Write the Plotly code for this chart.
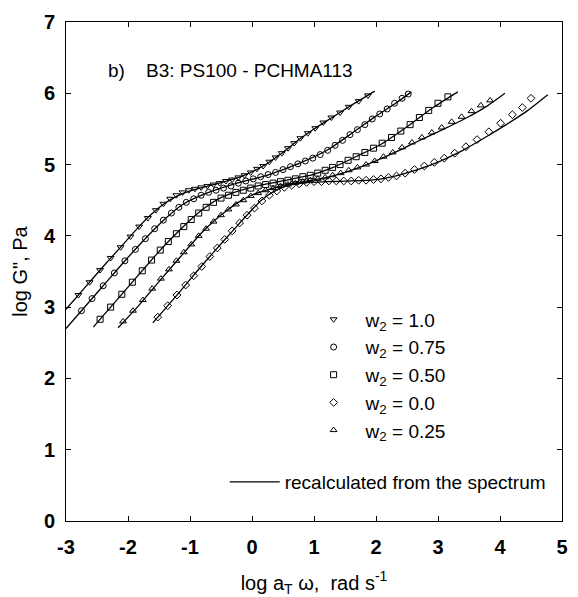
import plotly.graph_objects as go

# ---------------- data ----------------
# model lines ("recalculated from the spectrum")
line_w10_x = [-3.0, -2.7, -2.4, -2.1, -1.8, -1.6, -1.4, -1.2, -1.0, -0.7, -0.4, -0.1, 0.2, 0.45, 0.77, 1.0, 1.31, 1.6, 1.98]
line_w10_y = [2.97, 3.27, 3.57, 3.86, 4.15, 4.32, 4.46, 4.56, 4.63, 4.70, 4.77, 4.86, 4.99, 5.14, 5.36, 5.50, 5.67, 5.83, 6.03]

line_w075_x = [-3.0, -2.4, -2.08, -1.7, -1.4, -1.1, -0.73, -0.24, 0.24, 0.77, 1.21, 1.58, 2.0, 2.3, 2.57]
line_w075_y = [2.70, 3.30, 3.62, 3.98, 4.24, 4.45, 4.60, 4.74, 4.85, 5.02, 5.20, 5.42, 5.68, 5.85, 6.02]

line_w050_x = [-2.56, -2.0, -1.48, -1.2, -1.0, -0.75, -0.47, -0.1, 0.24, 0.6, 0.98, 1.31, 1.7, 2.11, 2.5, 2.92, 3.32]
line_w050_y = [2.72, 3.28, 3.80, 4.05, 4.22, 4.40, 4.55, 4.66, 4.73, 4.79, 4.86, 4.96, 5.12, 5.30, 5.53, 5.80, 6.02]

line_w025_x = [-2.16, -1.85, -1.48, -1.16, -0.84, -0.6, -0.4, -0.2, 0.02, 0.3, 0.56, 0.9, 1.21, 1.5, 1.85, 2.2, 2.66, 3.1, 3.47, 3.79, 4.08]
line_w025_y = [2.71, 3.00, 3.38, 3.70, 4.02, 4.22, 4.36, 4.48, 4.58, 4.66, 4.72, 4.77, 4.82, 4.89, 5.00, 5.13, 5.32, 5.50, 5.66, 5.82, 6.00]

line_w00_x = [-1.6, -1.2, -0.9, -0.6, -0.3, -0.05, 0.15, 0.35, 0.6, 0.9, 1.2, 1.6, 2.0, 2.4, 2.9, 3.4, 3.8, 4.1, 4.45, 4.77]
line_w00_y = [2.78, 3.18, 3.49, 3.79, 4.08, 4.32, 4.50, 4.62, 4.71, 4.75, 4.76, 4.77, 4.79, 4.86, 5.00, 5.20, 5.40, 5.56, 5.76, 5.98]

# measured points
pts_w10_x = [-2.8, -2.62, -2.45, -2.28, -2.12, -1.96, -1.82, -1.68, -1.55, -1.43, -1.32, -1.22, -1.12, -1.02, -0.92, -0.82, -0.72, -0.62, -0.52, -0.42,
             -0.32, -0.22, -0.12, -0.02, 0.08, 0.18, 0.28, 0.38, 0.48, 0.58, 0.68, 0.78, 0.9, 1.02, 1.15, 1.28, 1.42, 1.56, 1.72, 1.87]
pts_w10_y = [3.17, 3.35, 3.52, 3.69, 3.84, 3.99, 4.13, 4.25, 4.36, 4.45, 4.52, 4.57, 4.61, 4.64, 4.66, 4.68, 4.70, 4.72, 4.74, 4.77,
             4.79, 4.82, 4.85, 4.89, 4.94, 4.98, 5.04, 5.10, 5.16, 5.23, 5.30, 5.37, 5.44, 5.51, 5.59, 5.66, 5.73, 5.81, 5.89, 5.97]

pts_w075_x = [-2.75, -2.58, -2.4, -2.22, -2.05, -1.88, -1.72, -1.57, -1.43, -1.3, -1.18, -1.06, -0.94, -0.82, -0.7, -0.58, -0.46, -0.34, -0.22, -0.1, 0.02,
              0.14, 0.26, 0.38, 0.5, 0.62, 0.74, 0.86, 0.98, 1.1, 1.22, 1.34, 1.46, 1.58, 1.7, 1.82, 1.94, 2.06, 2.18, 2.3, 2.42, 2.52]
pts_w075_y = [2.95, 3.12, 3.30, 3.48, 3.65, 3.81, 3.96, 4.10, 4.22, 4.32, 4.40, 4.47, 4.52, 4.57, 4.61, 4.64, 4.67, 4.70, 4.74, 4.77, 4.80,
              4.83, 4.86, 4.89, 4.93, 4.97, 5.01, 5.05, 5.09, 5.14, 5.20, 5.27, 5.34, 5.42, 5.49, 5.56, 5.64, 5.71, 5.78, 5.86, 5.93, 5.99]

pts_w050_x = [-2.45, -2.28, -2.1, -1.93, -1.77, -1.62, -1.48, -1.35, -1.22, -1.1, -0.98, -0.86, -0.74, -0.62, -0.5, -0.38, -0.26, -0.14, -0.02, 0.1, 0.22,
              0.34, 0.46, 0.58, 0.7, 0.82, 0.94, 1.06, 1.18, 1.3, 1.42, 1.55, 1.68, 1.82, 1.96, 2.1, 2.25, 2.4, 2.55, 2.7, 2.85, 3.0, 3.16]
pts_w050_y = [2.83, 3.00, 3.18, 3.35, 3.51, 3.66, 3.80, 3.92, 4.03, 4.13, 4.23, 4.32, 4.40, 4.47, 4.53, 4.57, 4.61, 4.64, 4.67, 4.70, 4.72,
              4.74, 4.76, 4.78, 4.80, 4.83, 4.85, 4.88, 4.92, 4.96, 5.00, 5.06, 5.11, 5.17, 5.23, 5.30, 5.38, 5.47, 5.56, 5.66, 5.76, 5.86, 5.95]

pts_w025_x = [-2.08, -1.92, -1.76, -1.61, -1.47, -1.34, -1.22, -1.1, -0.98, -0.86, -0.74, -0.62, -0.5, -0.38, -0.26, -0.14, -0.02, 0.1, 0.22, 0.34, 0.46,
              0.58, 0.7, 0.82, 0.94, 1.06, 1.18, 1.3, 1.43, 1.56, 1.7, 1.84, 1.98, 2.12, 2.27, 2.42, 2.58, 2.74, 2.9, 3.06, 3.22, 3.38, 3.54, 3.69, 3.84]
pts_w025_y = [2.80, 2.95, 3.10, 3.26, 3.40, 3.53, 3.65, 3.77, 3.88, 4.00, 4.10, 4.20, 4.29, 4.37, 4.44, 4.50, 4.56, 4.60, 4.64, 4.67, 4.70,
              4.72, 4.74, 4.76, 4.78, 4.80, 4.82, 4.85, 4.88, 4.92, 4.96, 5.00, 5.05, 5.11, 5.17, 5.24, 5.31, 5.38, 5.45, 5.52, 5.60, 5.67, 5.75, 5.83, 5.90]

pts_w00_x = [-1.52, -1.36, -1.21, -1.07, -0.94, -0.81, -0.68, -0.56, -0.44, -0.32, -0.2, -0.08, 0.04, 0.16, 0.28, 0.4, 0.52, 0.64, 0.76, 0.88, 1.0,
             1.12, 1.24, 1.36, 1.48, 1.6, 1.72, 1.84, 1.96, 2.08, 2.2, 2.33, 2.47, 2.62, 2.78, 2.94, 3.1, 3.27, 3.45, 3.63, 3.82, 4.01, 4.2, 4.36, 4.5]
pts_w00_y = [2.86, 3.02, 3.17, 3.31, 3.44, 3.57, 3.71, 3.83, 3.95, 4.07, 4.18, 4.29, 4.39, 4.49, 4.57, 4.63, 4.68, 4.71, 4.73, 4.75, 4.76,
             4.76, 4.77, 4.77, 4.77, 4.77, 4.78, 4.78, 4.79, 4.80, 4.82, 4.84, 4.88, 4.93, 4.98, 5.03, 5.09, 5.16, 5.25, 5.35, 5.46, 5.58, 5.70, 5.80, 5.93]

legend_labels = ["w<sub>2</sub> = 1.0", "w<sub>2</sub> = 0.75", "w<sub>2</sub> = 0.50", "w<sub>2</sub> = 0.0", "w<sub>2</sub> = 0.25"]
line_label = "recalculated from the spectrum"
x_ticks = [-3, -2, -1, 0, 1, 2, 3, 4, 5]
y_ticks = [0, 1, 2, 3, 4, 5, 6, 7]
panel_text = "b)\u00a0\u00a0\u00a0 B3: PS100 - PCHMA113"

# ---------------- figure ----------------
FONT = "Liberation Sans, Arial, sans-serif"
fig = go.Figure()

lines = [(line_w10_x, line_w10_y), (line_w075_x, line_w075_y), (line_w050_x, line_w050_y),
         (line_w025_x, line_w025_y), (line_w00_x, line_w00_y)]
for i, (lx, ly) in enumerate(lines):
    fig.add_trace(go.Scatter(x=lx, y=ly, mode="lines", line=dict(color="black", width=1.3, shape="spline", smoothing=0.6),
                             name=line_label, showlegend=(i == 0), legend="legend2", hoverinfo="skip"))

series = [
    (pts_w10_x, pts_w10_y, "triangle-down-open", legend_labels[0], 1),
    (pts_w075_x, pts_w075_y, "circle-open", legend_labels[1], 2),
    (pts_w050_x, pts_w050_y, "square-open", legend_labels[2], 3),
    (pts_w025_x, pts_w025_y, "triangle-up-open", legend_labels[4], 5),
    (pts_w00_x, pts_w00_y, "diamond-open", legend_labels[3], 4),
]
for sx, sy, sym, nm, rank in series:
    fig.add_trace(go.Scatter(x=sx, y=sy, mode="markers", name=nm, legendrank=rank, legendgroup=nm,
                             marker=dict(symbol=sym, size=6, color="black", line=dict(width=1, color="black"))))

axis_common = dict(showline=True, linecolor="black", linewidth=1, mirror="ticks", ticks="inside", ticklen=5,
                   tickwidth=1, tickcolor="black", showgrid=False, zeroline=False, automargin=False,
                   tickfont=dict(family=FONT, size=20, color="black", weight="bold"))

fig.update_xaxes(range=[-3, 5], tickvals=x_ticks, ticktext=[str(t) for t in x_ticks], ticklabelstandoff=8,
                 title=dict(text="log a<sub>T</sub> ω,  rad s<sup>-1</sup>", font=dict(family=FONT, size=20, color="black"), standoff=22),
                 **axis_common)
fig.update_yaxes(range=[0, 7], tickvals=y_ticks, ticktext=[str(t) for t in y_ticks], ticklabelstandoff=6,
                 title=dict(text='log G", Pa', font=dict(family=FONT, size=20, color="black"), standoff=10),
                 **axis_common)

fig.add_annotation(x=0.08, y=0.902, xref="paper", yref="paper", xanchor="left", yanchor="middle",
                   text=panel_text, showarrow=False, font=dict(family=FONT, size=19, color="black"))

fig.update_layout(
    width=578, height=597, margin=dict(l=66, r=16, t=22, b=76),
    plot_bgcolor="white", paper_bgcolor="white",
    showlegend=True,
    legend=dict(x=0.475, y=0.442, xanchor="left", yanchor="top", bgcolor="rgba(0,0,0,0)",
                font=dict(family=FONT, size=19, color="black"), itemwidth=54, tracegroupgap=3,
                traceorder="normal"),
    legend2=dict(x=0.32, y=0.078, xanchor="left", yanchor="middle", bgcolor="rgba(0,0,0,0)",
                 font=dict(family=FONT, size=19, color="black"), itemwidth=50),
)

fig.write_html("out.html")
